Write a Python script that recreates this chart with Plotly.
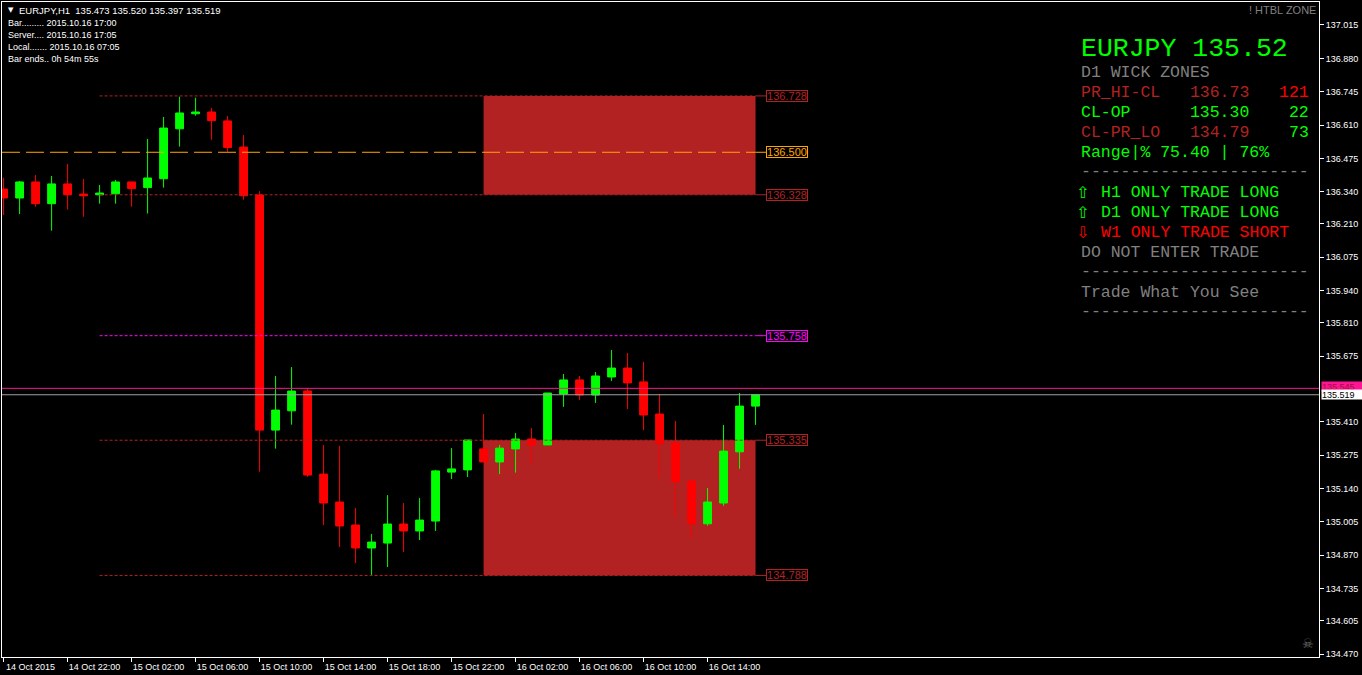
import pandas as pd
import plotly.graph_objects as go

# ---------------- data ----------------
symbol = "EURJPY"
timeframe = "H1"
bar_times = pd.date_range("2015-10-14 18:00", periods=48, freq="h")

opens = [136.351, 136.315, 136.380, 136.292, 136.372, 136.331, 136.328, 136.332,
         136.380, 136.357, 136.393, 136.595, 136.656, 136.663, 136.627, 136.521,
         136.327, 135.376, 135.454, 135.534, 135.198, 135.085, 134.992, 134.899,
         134.919, 134.996, 134.968, 135.008, 135.206, 135.215, 135.300, 135.247,
         135.300, 135.340, 135.316, 135.522, 135.579, 135.518, 135.591, 135.627,
         135.571, 135.441, 135.324, 135.170, 134.997, 135.081, 135.288, 135.473]
highs = [136.397, 136.384, 136.408, 136.404, 136.453, 136.392, 136.368, 136.388,
         136.380, 136.554, 136.643, 136.725, 136.721, 136.679, 136.647, 136.570,
         136.343, 135.595, 135.631, 135.546, 135.316, 135.312, 135.061, 134.956,
         135.113, 135.081, 135.101, 135.215, 135.303, 135.336, 135.441, 135.316,
         135.364, 135.384, 135.526, 135.603, 135.595, 135.611, 135.700, 135.688,
         135.652, 135.522, 135.413, 135.170, 135.142, 135.397, 135.526, 135.520]
lows = [136.246, 136.250, 136.280, 136.183, 136.268, 136.239, 136.292, 136.292,
        136.280, 136.252, 136.357, 136.523, 136.648, 136.551, 136.502, 136.308,
        135.208, 135.301, 135.398, 135.187, 134.992, 134.903, 134.838, 134.790,
        134.822, 134.883, 134.931, 134.968, 135.178, 135.186, 135.247, 135.198,
        135.204, 135.236, 135.316, 135.470, 135.498, 135.486, 135.575, 135.461,
        135.376, 135.183, 135.026, 134.941, 134.989, 135.070, 135.220, 135.397]
closes = [136.315, 136.380, 136.292, 136.372, 136.328, 136.324, 136.335, 136.380,
          136.353, 136.396, 136.598, 136.659, 136.663, 136.628, 136.519, 136.324,
          135.376, 135.457, 135.534, 135.194, 135.081, 134.988, 134.899, 134.923,
          134.996, 134.968, 135.012, 135.211, 135.219, 135.336, 135.247, 135.303,
          135.340, 135.316, 135.526, 135.579, 135.518, 135.595, 135.627, 135.567,
          135.437, 135.321, 135.167, 134.997, 135.085, 135.291, 135.473, 135.519]

# (the 135.545 tick is hidden under the price box in the original, so it is left out)
y_tick_values = [137.015, 136.880, 136.745, 136.610, 136.475, 136.340, 136.210,
                 136.075, 135.940, 135.810, 135.675, 135.410, 135.275,
                 135.140, 135.005, 134.870, 134.735, 134.605, 134.470]
x_tick_times = pd.date_range("2015-10-14 18:00", "2015-10-16 14:00", freq="4h")
x_tick_labels = ["14 Oct 2015", "14 Oct 22:00", "15 Oct 02:00", "15 Oct 06:00",
                 "15 Oct 10:00", "15 Oct 14:00", "15 Oct 18:00", "15 Oct 22:00",
                 "16 Oct 02:00", "16 Oct 06:00", "16 Oct 10:00", "16 Oct 14:00"]

prev_day_start = pd.Timestamp("2015-10-15 00:00")
zone_day_start = pd.Timestamp("2015-10-16 00:00")
upper_zone = [136.728, 136.328]
lower_zone = [135.335, 134.788]
orange_level = 136.500
magenta_level = 135.758
pink_level = 135.545
bid_price = closes[-1]

header_line = "EURJPY,H1  135.473 135.520 135.397 135.519"
info_lines = ["Bar......... 2015.10.16 17:00", "Server.... 2015.10.16 17:05",
              "Local....... 2015.10.16 07:05", "Bar ends.. 0h 54m 55s"]
panel_title = "EURJPY 135.52"

# ---------------- style ----------------
GREEN = "#00FF00"
RED = "#FF0000"
FIRE = "#B22222"
ORANGE = "#FFA500"
MAGENTA = "#FF00FF"
PINK = "#FF1493"
GRAY = "#808080"
SANS = "Liberation Sans"
MONO = "Liberation Mono"

L, R, T, B = 2, 1319, 2, 657          # plot area in pixels
W, H = 1362, 675


def px(xp):
    return (xp - L) / (R - L)


def py(yp):
    return (B - yp) / (B - T)


t0 = bar_times[0]
t_last = bar_times[-1]
x_range = [t0 - pd.Timedelta(minutes=6), t0 + pd.Timedelta(minutes=int(82.22 * 60))]
y_range = [134.458, 137.108]

fig = go.Figure()
fig.add_trace(go.Candlestick(
    x=bar_times, open=opens, high=highs, low=lows, close=closes,
    increasing=dict(line=dict(color=GREEN, width=1), fillcolor=GREEN),
    decreasing=dict(line=dict(color=RED, width=1), fillcolor=RED),
    whiskerwidth=0, hoverinfo="skip", showlegend=False))

shapes = []
# zone rectangles (behind candles)
for top, bot in (upper_zone, lower_zone):
    shapes.append(dict(type="rect", xref="x", yref="y", x0=zone_day_start, x1=t_last,
                       y0=bot, y1=top, fillcolor=FIRE, line=dict(width=0), layer="below"))

leader = pd.Timedelta(minutes=40)
level_specs = [(upper_zone[0], FIRE, "3px,2px", prev_day_start),
               (orange_level, ORANGE, "18px,6px", x_range[0]),
               (upper_zone[1], FIRE, "3px,2px", prev_day_start),
               (magenta_level, MAGENTA, "3px,2px", prev_day_start),
               (lower_zone[0], FIRE, "3px,2px", prev_day_start),
               (lower_zone[1], FIRE, "3px,2px", prev_day_start)]
annotations = []
for lvl, col, dash, start in level_specs:
    shapes.append(dict(type="line", xref="x", yref="y", x0=start, x1=t_last, y0=lvl, y1=lvl,
                       line=dict(color=col, width=1, dash=dash), layer="above"))
    shapes.append(dict(type="line", xref="x", yref="y", x0=t_last, x1=t_last + leader,
                       y0=lvl, y1=lvl, line=dict(color=col, width=1), layer="above"))
    annotations.append(dict(xref="x", yref="y", x=t_last + leader, y=lvl, xanchor="left",
                            yanchor="middle", text=f"{lvl:.3f}", showarrow=False,
                            font=dict(family=SANS, size=11, color=col), bgcolor="black",
                            bordercolor=col, borderwidth=1, borderpad=0, width=40, height=10,
                            align="center"))

# full width horizontal lines
shapes.append(dict(type="line", xref="paper", yref="y", x0=0, x1=1, y0=pink_level, y1=pink_level,
                   line=dict(color=PINK, width=1), layer="above"))
shapes.append(dict(type="line", xref="paper", yref="y", x0=0, x1=1, y0=bid_price, y1=bid_price,
                   line=dict(color="#A0A0A0", width=1), layer="above"))

# right axis price boxes (the bid box covers most of the pink one, as in the original)
annotations.append(dict(xref="paper", yref="y", x=1, xshift=2, y=pink_level, yshift=2,
                        xanchor="left", yanchor="middle", text=f"{pink_level:.3f}", showarrow=False,
                        font=dict(family=SANS, size=9, color="#A0103C"), bgcolor=PINK,
                        borderpad=0, width=41, height=9, align="left"))
annotations.append(dict(xref="paper", yref="y", x=1, xshift=2, y=bid_price,
                        xanchor="left", yanchor="middle", text=f"{bid_price:.3f}", showarrow=False,
                        font=dict(family=SANS, size=9, color="black"), bgcolor="white",
                        borderpad=0, width=41, height=9, align="left"))

# top-left info
annotations.append(dict(xref="paper", yref="paper", x=px(6), y=py(10), xanchor="left",
                        yanchor="middle", text="▼", showarrow=False,
                        font=dict(family="DejaVu Sans", size=7, color="white")))
annotations.append(dict(xref="paper", yref="paper", x=px(17), y=py(10), xanchor="left",
                        yanchor="middle", text=header_line, showarrow=False,
                        font=dict(family=SANS, size=9.5, color="white")))
for i, line in enumerate(info_lines):
    annotations.append(dict(xref="paper", yref="paper", x=px(6), y=py(23 + 12 * i), xanchor="left",
                            yanchor="middle", text=line, showarrow=False,
                            font=dict(family=SANS, size=9, color="white")))

# top-right label and icon
annotations.append(dict(xref="paper", yref="paper", x=px(1318), y=py(10), xanchor="right",
                        yanchor="middle", text="! HTBL ZONE", showarrow=False,
                        font=dict(family=SANS, size=11, color=GRAY)))
annotations.append(dict(xref="paper", yref="paper", x=px(1308), y=py(643), xanchor="center",
                        yanchor="middle", text="☠", showarrow=False,
                        font=dict(family="DejaVu Sans", size=13, color="#6E6E6E")))

# info panel
CW = 9.9
X0 = 1079
panel_rows = [
    # (row y, [(col, text, color)])
    (72.7, [(0, "D1 WICK ZONES", GRAY)]),
    (92.7, [(0, "PR_HI-CL   136.73", FIRE), (20, "121", RED)]),
    (112.7, [(0, "CL-OP      135.30    22", GREEN)]),
    (132.7, [(0, "CL-PR_LO   134.79", FIRE), (21, "73", GREEN)]),
    (152.7, [(0, "Range|% 75.40 | 76%", GREEN)]),
    (171.5, [(0, "-----------------------", GRAY)]),
    (192.7, [(2, "H1 ONLY TRADE LONG", GREEN)]),
    (212.7, [(2, "D1 ONLY TRADE LONG", GREEN)]),
    (232.7, [(2, "W1 ONLY TRADE SHORT", RED)]),
    (252.7, [(0, "DO NOT ENTER TRADE", GRAY)]),
    (271.5, [(0, "-----------------------", GRAY)]),
    (292.7, [(0, "Trade What You See", GRAY)]),
    (311.5, [(0, "-----------------------", GRAY)]),
]
arrows = [(192.7, "⇧", GREEN), (212.7, "⇧", GREEN), (232.7, "⇩", RED)]

annotations.append(dict(xref="paper", yref="paper", x=px(1079), y=py(48.5), xanchor="left",
                        yanchor="middle", text=panel_title, showarrow=False,
                        font=dict(family=MONO, size=26.5, color=GREEN)))
for yrow, segs in panel_rows:
    for col, txt, colr in segs:
        annotations.append(dict(xref="paper", yref="paper", x=px(X0 + col * CW), y=py(yrow),
                                xanchor="left", yanchor="middle", text=txt, showarrow=False,
                                font=dict(family=MONO, size=16.5, color=colr)))
for yrow, sym, colr in arrows:
    annotations.append(dict(xref="paper", yref="paper", x=px(1082), y=py(yrow), xanchor="center",
                            yanchor="middle", text=sym, showarrow=False,
                            font=dict(family="DejaVu Sans", size=16, color=colr)))

fig.update_layout(
    template="none",
    width=W, height=H,
    margin=dict(l=L, r=W - R, t=T, b=H - B, pad=0),
    paper_bgcolor="black", plot_bgcolor="black",
    showlegend=False, hovermode=False,
    shapes=shapes, annotations=annotations,
    xaxis=dict(type="date", range=x_range, rangeslider=dict(visible=False),
               showgrid=False, zeroline=False, automargin=False,
               tickmode="array", tickvals=list(x_tick_times), ticktext=x_tick_labels,
               ticks="outside", ticklen=4, tickwidth=1, tickcolor="white",
               tickfont=dict(family=SANS, size=9, color="white"),
               ticklabelshift=27, ticklabelstandoff=-3,
               showline=True, linecolor="white", linewidth=1, mirror=True),
    yaxis=dict(range=y_range, side="right", showgrid=False, zeroline=False, automargin=False,
               tickmode="array", tickvals=y_tick_values,
               ticktext=[f"{v:.3f}" for v in y_tick_values],
               ticks="outside", ticklen=4, tickwidth=1, tickcolor="white",
               tickfont=dict(family=SANS, size=9, color="white"),
               showline=True, linecolor="white", linewidth=1, mirror=True),
)

fig.write_html("out.html", config={"displayModeBar": False},
               post_script="document.body.style.margin='0';document.body.style.overflow='hidden';")
